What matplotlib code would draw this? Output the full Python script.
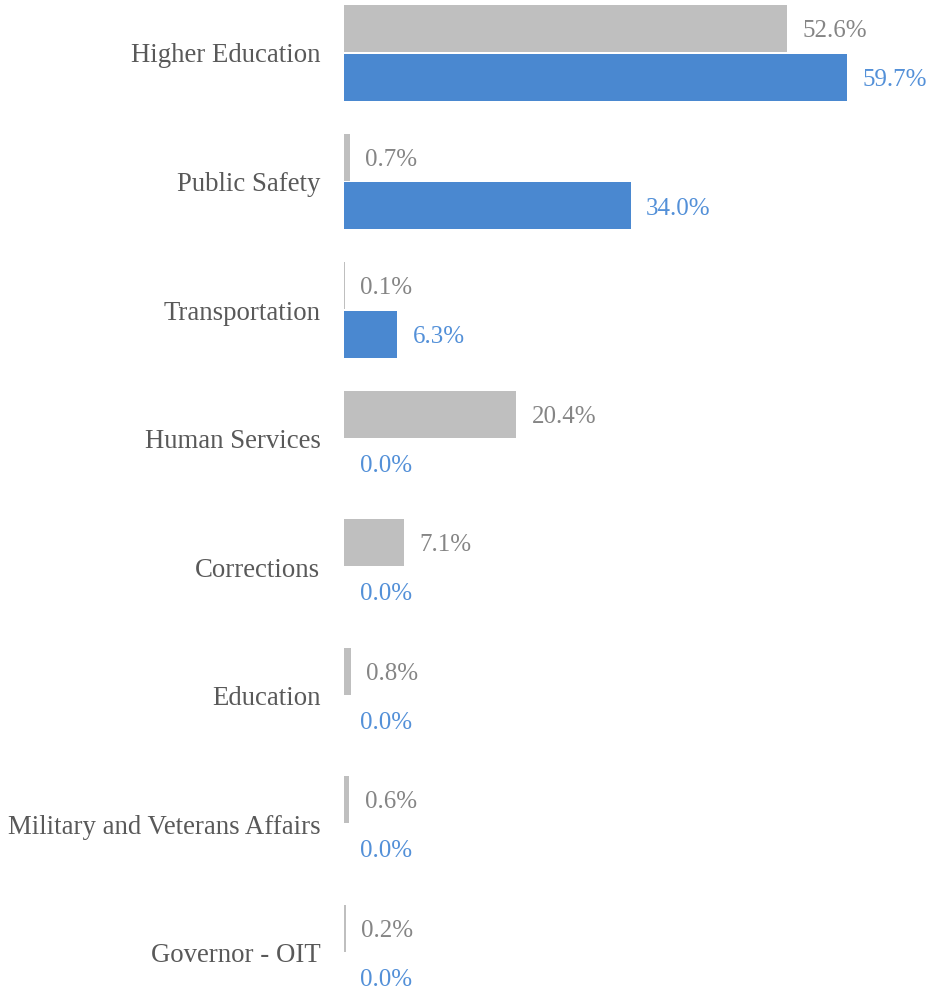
import matplotlib.pyplot as plt
import numpy as np

categories = ["Higher Education", "Public Safety", "Transportation", "Human Services",
              "Corrections", "Education", "Military and Veterans Affairs", "Governor - OIT"]
gray_values = [52.6, 0.7, 0.1, 20.4, 7.1, 0.8, 0.6, 0.2]
blue_values = [59.7, 34.0, 6.3, 0.0, 0.0, 0.0, 0.0, 0.0]

gray_color = "#BFBFBF"
blue_color = "#4A88D0"

plt.rcParams["font.family"] = ["Liberation Serif", "DejaVu Serif"]

fig = plt.figure(figsize=(9.29, 9.94), dpi=100)
ax = fig.add_axes([344 / 929, 0, 585 / 929, 1])

y = np.arange(len(categories))
h = 0.366
off = 0.19

ax.barh(y - off, gray_values, height=h, color=gray_color)
ax.barh(y + off, blue_values, height=h, color=blue_color)

# value labels next to each bar end
for yi, v in zip(y, gray_values):
    ax.text(v + 1.85, yi - off + 0.02, f"{v:.1f}%", color="#858585", fontsize=18,
            va="center", ha="left")
for yi, v in zip(y, blue_values):
    ax.text(v + 1.85, yi + off + 0.02, f"{v:.1f}%", color="#5390D8", fontsize=18,
            va="center", ha="left")

ax.set_yticks(y)
ax.set_yticklabels(categories, fontsize=19.3, color="#595959")
ax.tick_params(axis="y", length=0, pad=17)
ax.set_xticks([])
ax.set_xlim(0, 69.4)
ax.set_ylim(7.32, -0.412)
for s in ax.spines.values():
    s.set_visible(False)

plt.savefig("out.png", dpi=100)
